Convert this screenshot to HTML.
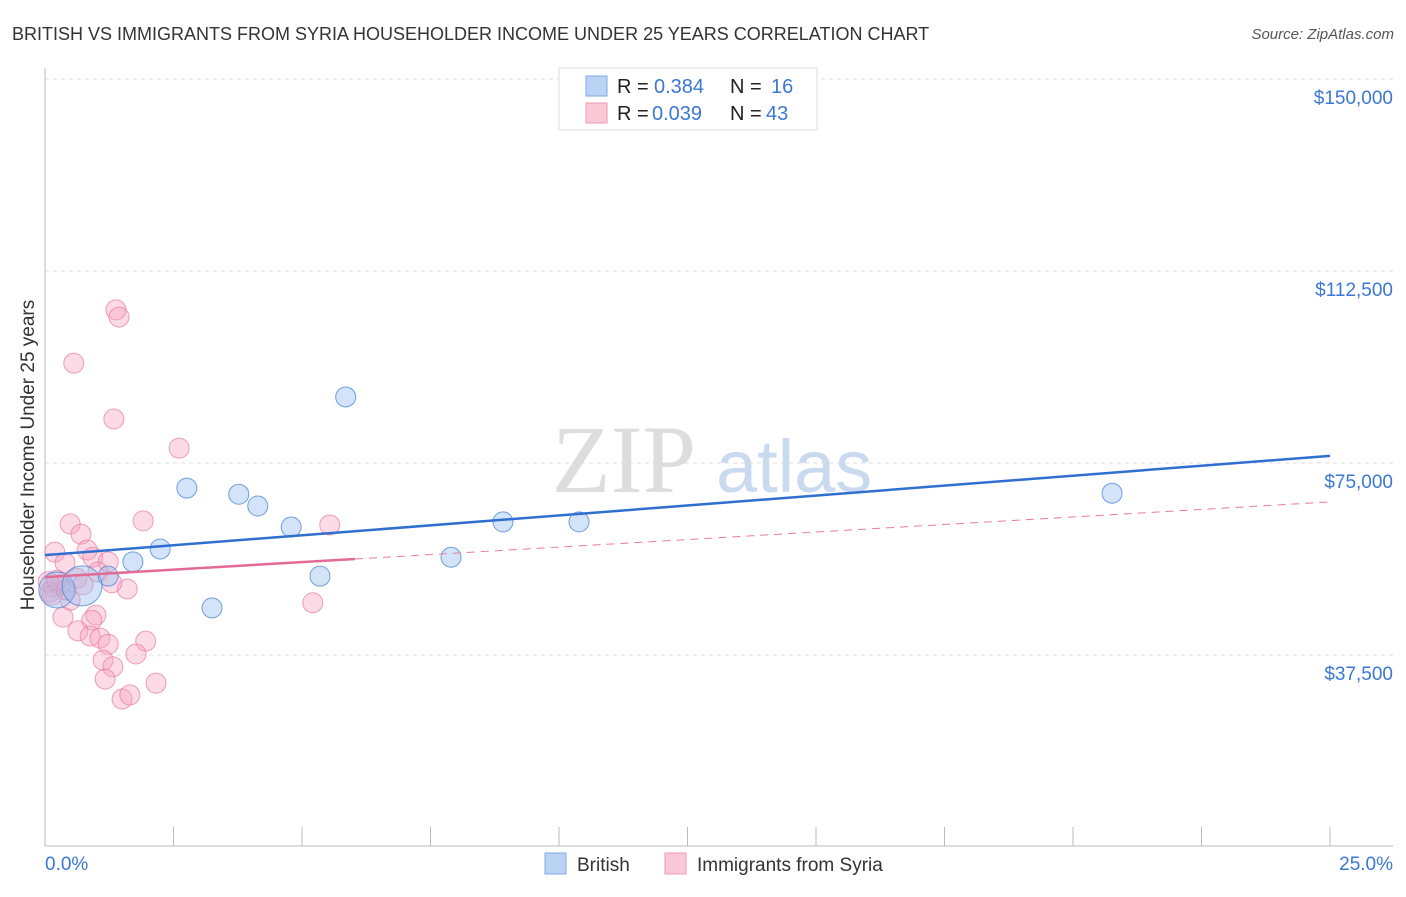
<!DOCTYPE html>
<html><head><meta charset="utf-8"><style>
body{margin:0;background:#fff;font-family:"Liberation Sans",sans-serif;}
</style></head><body>
<svg width="1406" height="892" xmlns="http://www.w3.org/2000/svg" style="font-family:'Liberation Sans',sans-serif">
<text x="12" y="40" font-size="18" fill="#333">BRITISH VS IMMIGRANTS FROM SYRIA HOUSEHOLDER INCOME UNDER 25 YEARS CORRELATION CHART</text>
<text x="1394" y="39" font-size="15" fill="#555" font-style="italic" text-anchor="end">Source: ZipAtlas.com</text>
<g>
<text x="552" y="492" font-size="96" fill="#ddd" font-family="Liberation Serif,serif">ZIP</text>
<text x="716" y="492" font-size="74" fill="#c9d9ef">atlas</text>
</g>
<g id="grid"></g>
<line x1="45" y1="68" x2="45" y2="846" stroke="#bbb"/>
<line x1="45" y1="846" x2="1393" y2="846" stroke="#bbb"/>
<g id="xticks"></g>
<text x="34" y="455" font-size="19" fill="#333" text-anchor="middle" transform="rotate(-90 34 455)">Householder Income Under 25 years</text>
<text x="45" y="870" font-size="19" fill="#3a78d4">0.0%</text>
<text x="1393" y="870" font-size="19" fill="#3a78d4" text-anchor="end">25.0%</text>
<g id="pts"></g>
<g id="lines"></g>
<g>
<rect x="559" y="68" width="258" height="62" fill="#fff" stroke="#ddd"/>
<rect x="586" y="76" width="21" height="20" fill="#b8d3f3" stroke="#7faae0"/>
<rect x="586" y="103" width="21" height="20" fill="#fbc8d8" stroke="#ee9ab5"/>
<text x="617" y="93" font-size="20" fill="#222">R =</text>
<text x="654" y="93" font-size="20" fill="#3a78d4">0.384</text>
<text x="730" y="93" font-size="20" fill="#222">N =</text>
<text x="771" y="93" font-size="20" fill="#3a78d4">16</text>
<text x="617" y="120" font-size="20" fill="#222">R =</text>
<text x="652" y="120" font-size="20" fill="#3a78d4">0.039</text>
<text x="730" y="120" font-size="20" fill="#222">N =</text>
<text x="766" y="120" font-size="20" fill="#3a78d4">43</text>
</g>
<g>
<rect x="545" y="853" width="21" height="21" fill="#b8d3f3" stroke="#7faae0"/>
<text x="577" y="871" font-size="19" fill="#333">British</text>
<rect x="665" y="853" width="21" height="21" fill="#fbc8d8" stroke="#ee9ab5"/>
<text x="697" y="871" font-size="19" fill="#333">Immigrants from Syria</text>
</g>
</svg>
<script>
const yTicks=[37500,75000,112500,150000];
const yTickLabels=["$37,500","$75,000","$112,500","$150,000"];
const britishX=[0.23,0.72,1.23,1.71,2.24,2.76,3.25,3.77,4.14,4.79,5.35,5.85,7.90,8.91,10.39,20.76];
const britishY=[50.2,51.0,52.9,55.7,58.2,70.1,46.7,68.9,66.6,62.5,52.9,87.9,56.6,63.5,63.5,69.1];
const britishR=[18,20,10,10,10,10,10,10,10,10,10,10,10,10,10,10];
const syriaX=[0.49,0.70,1.91,0.19,0.82,0.39,0.93,1.23,1.03,0.62,0.16,0.29,0.74,0.49,1.60,0.35,0.99,0.91,0.64,0.88,1.07,1.23,1.96,1.77,1.13,1.32,1.17,2.16,1.50,1.65,1.38,1.44,0.56,1.34,2.61,5.54,5.21,0.10,0.06,0.14,0.41,0.23,1.30];
const syriaY=[63.1,61.1,63.7,57.6,58.0,55.5,56.6,55.7,53.7,52.5,50.8,51.2,51.2,48.2,50.4,44.9,45.3,44.3,42.2,41.2,40.8,39.6,40.2,37.7,36.5,35.2,32.8,32.0,28.9,29.7,104.9,103.5,94.5,83.6,77.9,62.9,47.7,49.8,51.8,49.2,50.2,52.1,51.6];
const britishTrend=[57.0,76.4];
const syriaTrend=[52.7,67.4];
const syriaSolidEnd=6.03;
const NS="http://www.w3.org/2000/svg";
const X=v=>45+v/25*1285;
const Y=v=>847-v/37500*192;
const Yk=v=>Y(v*1000);
function mk(t,a,p){const e=document.createElementNS(NS,t);for(const k in a)e.setAttribute(k,a[k]);p.appendChild(e);return e;}
const grid=document.getElementById('grid');
yTicks.forEach((t,i)=>{
 const l=mk('line',{x1:45,x2:1393,y1:Y(t),y2:Y(t),stroke:'#ddd','stroke-dasharray':'4,4'},grid);
 
 
 const tx=mk('text',{x:1393,y:Y(t)+25,'font-size':19,fill:'#3a78d4','text-anchor':'end'},grid);
 tx.textContent=yTickLabels[i];
 
 
});
const xt=document.getElementById('xticks');
for(let i=1;i<=10;i++){
 const l=mk('line',{x1:X(i*2.5),x2:X(i*2.5),y1:827,y2:846,stroke:'#bbb'},xt);
 
 
}
const pts=document.getElementById('pts');
syriaX.forEach((x,i)=>{
 const c=mk('circle',{cx:X(x),cy:Yk(syriaY[i]),r:10,fill:'rgba(246,160,190,0.38)',stroke:'rgba(232,120,160,0.7)','stroke-width':1},pts);
 
 
});
britishX.forEach((x,i)=>{
 const c=mk('circle',{cx:X(x),cy:Yk(britishY[i]),r:britishR[i],fill:'rgba(150,190,240,0.42)',stroke:'rgba(70,130,215,0.75)','stroke-width':1},pts);
 
 
});
const ln=document.getElementById('lines');
const midY=syriaTrend[0]+(syriaTrend[1]-syriaTrend[0])*syriaSolidEnd/25;
const sd=mk('line',{x1:X(syriaSolidEnd),y1:Yk(midY),x2:X(25),y2:Yk(syriaTrend[1]),stroke:'#e87aa0','stroke-width':1,'stroke-dasharray':'8,6'},ln);


const ss=mk('line',{x1:X(0),y1:Yk(syriaTrend[0]),x2:X(syriaSolidEnd),y2:Yk(midY),stroke:'#e46a96','stroke-width':2.5},ln);


const bl=mk('line',{x1:X(0),y1:Yk(britishTrend[0]),x2:X(25),y2:Yk(britishTrend[1]),stroke:'#2f6fd0','stroke-width':2.5},ln);


</script>
</body></html>
